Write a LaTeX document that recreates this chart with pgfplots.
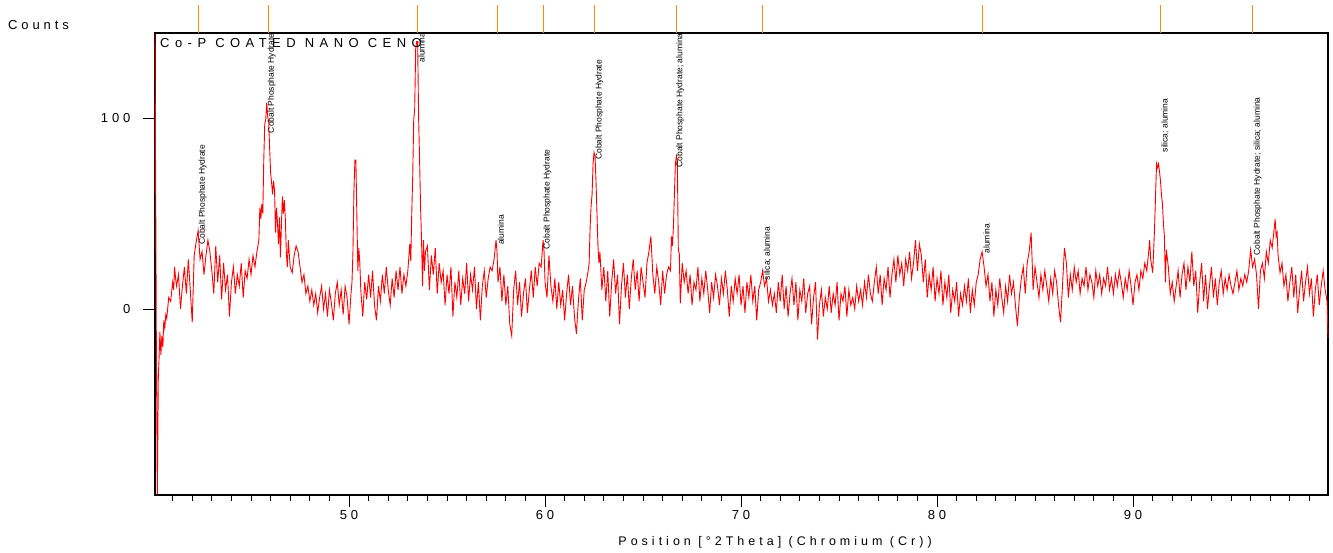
\documentclass[border=0pt]{standalone}
\usepackage{fontspec}
\setmainfont{Liberation Sans}
\newfontfamily\spaced[LetterSpace=30]{Liberation Sans}
\newfontfamily\spacedt[LetterSpace=42]{Liberation Sans}
\newfontfamily\spacedx[LetterSpace=32]{Liberation Sans}
\usepackage{pgfplots}
\pgfplotsset{compat=1.18}
\definecolor{xrdred}{RGB}{255,0,0}
\definecolor{refor}{RGB}{255,140,0}
\newcommand{\pk}[3]{\node[rotate=90,anchor=west,inner sep=0pt,font=\fontsize{8.5}{9}\selectfont,text=black] at (axis cs:#1,#2) {#3};}

\begin{document}
\begin{tikzpicture}
\useasboundingbox (-155pt,-57pt) rectangle (1178pt,495pt);
\begin{axis}[
  scale only axis,
  width=1173pt, height=462pt,
  xmin=40.1, xmax=99.95,
  ymin=-97.4, ymax=144.5,
  clip=false,
  axis line style={black, line width=1.6pt},
  xtick={50,60,70,80,90},
  minor xtick={41,42,43,44,45,46,47,48,49,51,52,53,54,55,56,57,58,59,61,62,63,64,65,66,67,68,69,71,72,73,74,75,76,77,78,79,81,82,83,84,85,86,87,88,89,91,92,93,94,95,96,97,98,99},
  ytick={0,100},
  xtick pos=bottom, ytick pos=left,
  tick align=outside,
  major tick length=12pt, minor tick length=6pt,
  tick style={black, line width=0.7pt},
  /pgf/number format/assume math mode=true,
  ticklabel style={font=\spaced\fontsize{13}{15}\selectfont},
  yticklabel style={xshift=-9pt},
]
\addplot[xrdred, line width=0.9pt] coordinates {
(40.10,144)(40.17,-20)(40.22,-97)(40.27,-35)(40.30,-28)(40.35,-12)(40.40,-24)(40.45,-14)(40.50,-20)(40.55,-6)
(40.60,-10)(40.65,-3)(40.70,-5)(40.80,6)(40.90,4)(41.00,14)(41.05,10)(41.10,22)(41.15,16)(41.20,12)
(41.30,18)(41.40,0)(41.50,12)(41.60,22)(41.70,8)(41.80,26)(41.90,10)(42.00,-7)(42.10,28)(42.20,35)
(42.30,41)(42.40,26)(42.50,30)(42.60,18)(42.70,28)(42.80,36)(42.90,30)(43.00,20)(43.10,8)(43.20,33)
(43.30,14)(43.40,28)(43.50,5)(43.60,24)(43.70,10)(43.80,18)(43.90,-4)(44.00,14)(44.10,22)(44.20,8)
(44.30,18)(44.40,12)(44.50,24)(44.60,6)(44.70,20)(44.80,16)(44.90,26)(45.00,18)(45.10,28)(45.20,22)
(45.30,30)(45.40,36)(45.45,53)(45.50,47)(45.55,55)(45.60,50)(45.65,78)(45.70,97)(45.75,99)(45.80,108)
(45.85,101)(45.90,98)(45.95,84)(46.00,71)(46.05,66)(46.10,60)(46.15,67)(46.20,62)(46.25,40)(46.30,53)
(46.35,45)(46.40,34)(46.45,48)(46.50,27)(46.55,44)(46.60,59)(46.65,50)(46.70,57)(46.75,47)(46.80,30)
(46.85,22)(46.90,36)(47.00,22)(47.10,19)(47.20,28)(47.30,33)(47.40,30)(47.50,22)(47.60,14)(47.70,18)
(47.80,8)(47.90,12)(48.00,4)(48.10,10)(48.20,2)(48.30,8)(48.40,-2)(48.50,6)(48.60,12)(48.70,0)
(48.80,8)(48.90,-4)(49.00,10)(49.10,3)(49.20,-6)(49.30,8)(49.40,14)(49.50,2)(49.60,10)(49.70,-3)
(49.80,12)(49.90,6)(50.00,-8)(50.10,8)(50.15,14)(50.20,30)(50.25,62)(50.30,78)(50.35,78)(50.40,48)
(50.45,20)(50.50,32)(50.55,24)(50.60,10)(50.70,-4)(50.80,14)(50.90,5)(51.00,18)(51.10,6)(51.20,20)
(51.30,2)(51.40,-6)(51.50,12)(51.60,4)(51.70,18)(51.80,8)(51.90,22)(52.00,10)(52.10,2)(52.20,16)
(52.30,6)(52.40,20)(52.50,10)(52.60,22)(52.70,8)(52.80,18)(52.90,12)(53.00,20)(53.10,34)(53.15,25)
(53.20,50)(53.25,70)(53.30,99)(53.35,105)(53.40,136)(53.45,140)(53.50,140)(53.55,100)(53.60,78)(53.65,53)
(53.70,36)(53.75,12)(53.80,36)(53.85,20)(53.90,30)(54.00,33)(54.10,10)(54.20,28)(54.30,18)(54.40,32)
(54.50,8)(54.60,24)(54.70,14)(54.80,20)(54.90,2)(55.00,18)(55.10,8)(55.20,22)(55.30,-4)(55.40,14)
(55.50,6)(55.60,20)(55.70,2)(55.80,16)(55.90,8)(56.00,24)(56.10,4)(56.20,18)(56.30,10)(56.40,22)
(56.50,0)(56.60,14)(56.70,-6)(56.80,12)(56.90,20)(57.00,6)(57.10,16)(57.20,22)(57.30,20)(57.40,26)
(57.50,36)(57.55,30)(57.60,14)(57.70,22)(57.80,4)(57.90,18)(58.00,2)(58.10,12)(58.20,-8)(58.30,-14)
(58.40,10)(58.50,20)(58.60,2)(58.70,14)(58.80,-4)(58.90,8)(59.00,16)(59.10,-2)(59.20,10)(59.30,20)
(59.40,6)(59.50,22)(59.60,12)(59.70,24)(59.80,22)(59.90,36)(59.95,30)(60.00,14)(60.10,6)(60.20,28)
(60.30,12)(60.40,4)(60.50,16)(60.60,0)(60.70,14)(60.80,2)(60.90,10)(61.00,-6)(61.10,8)(61.20,18)
(61.30,2)(61.40,12)(61.50,-4)(61.60,-13)(61.70,4)(61.80,16)(61.90,-6)(62.00,10)(62.10,14)(62.20,20)
(62.25,24)(62.30,43)(62.35,54)(62.40,60)(62.45,76)(62.50,82)(62.55,80)(62.60,67)(62.65,50)(62.70,33)
(62.75,24)(62.80,30)(62.90,10)(63.00,22)(63.10,4)(63.20,20)(63.30,-4)(63.40,14)(63.50,26)(63.60,8)
(63.70,18)(63.80,-8)(63.90,12)(64.00,24)(64.10,6)(64.20,18)(64.30,0)(64.40,16)(64.50,26)(64.60,10)
(64.70,20)(64.80,4)(64.90,22)(65.00,14)(65.10,6)(65.20,24)(65.30,30)(65.40,38)(65.50,18)(65.60,8)
(65.70,22)(65.80,14)(65.90,2)(66.00,20)(66.10,8)(66.20,18)(66.30,22)(66.40,20)(66.45,38)(66.50,33)
(66.55,43)(66.60,60)(66.65,76)(66.70,80)(66.75,78)(66.80,31)(66.85,29)(66.90,3)(67.00,24)(67.10,14)
(67.20,20)(67.30,8)(67.40,18)(67.50,2)(67.60,14)(67.70,10)(67.80,22)(67.90,4)(68.00,16)(68.10,8)
(68.20,20)(68.30,10)(68.40,-2)(68.50,14)(68.60,6)(68.70,18)(68.80,12)(68.90,2)(69.00,16)(69.10,8)
(69.20,20)(69.30,10)(69.40,-4)(69.50,12)(69.60,4)(69.70,16)(69.80,8)(69.90,18)(70.00,2)(70.10,12)
(70.20,-2)(70.30,14)(70.40,6)(70.50,18)(70.60,4)(70.70,12)(70.80,-6)(70.90,10)(71.00,14)(71.10,20)
(71.20,12)(71.30,16)(71.40,4)(71.50,10)(71.60,2)(71.70,8)(71.80,-2)(71.90,14)(72.00,4)(72.10,18)
(72.20,0)(72.30,12)(72.40,-4)(72.50,8)(72.60,16)(72.70,2)(72.80,14)(72.90,-6)(73.00,10)(73.10,4)
(73.20,16)(73.30,-2)(73.40,8)(73.50,12)(73.60,-8)(73.70,6)(73.80,14)(73.90,-16)(74.00,2)(74.10,10)
(74.20,-4)(74.30,6)(74.40,0)(74.50,12)(74.60,-2)(74.70,8)(74.80,2)(74.90,14)(75.00,-6)(75.10,8)
(75.20,4)(75.30,12)(75.40,-4)(75.50,10)(75.60,2)(75.70,6)(75.80,0)(75.90,12)(76.00,4)(76.10,10)
(76.20,2)(76.30,14)(76.40,6)(76.50,18)(76.60,8)(76.70,4)(76.80,14)(76.90,22)(77.00,8)(77.10,18)
(77.20,2)(77.30,16)(77.40,10)(77.50,22)(77.60,6)(77.70,18)(77.80,26)(77.90,14)(78.00,28)(78.10,18)
(78.20,24)(78.30,12)(78.40,26)(78.50,20)(78.60,30)(78.70,16)(78.80,24)(78.90,36)(79.00,20)(79.10,34)
(79.20,28)(79.30,14)(79.40,26)(79.50,6)(79.60,18)(79.70,10)(79.80,22)(79.90,4)(80.00,16)(80.10,8)
(80.20,20)(80.30,2)(80.40,14)(80.50,6)(80.60,18)(80.70,-2)(80.80,10)(80.90,4)(81.00,14)(81.10,-4)
(81.20,8)(81.30,2)(81.40,12)(81.50,4)(81.60,16)(81.70,-2)(81.80,10)(81.90,2)(82.00,14)(82.10,18)
(82.20,26)(82.30,30)(82.40,22)(82.50,12)(82.60,18)(82.70,4)(82.80,14)(82.90,-4)(83.00,10)(83.10,2)
(83.20,16)(83.30,6)(83.40,-2)(83.50,12)(83.60,4)(83.70,18)(83.80,8)(83.90,14)(84.00,2)(84.10,-9)
(84.20,6)(84.30,16)(84.40,22)(84.50,8)(84.60,24)(84.70,30)(84.80,40)(84.85,26)(84.90,10)(85.00,22)
(85.10,14)(85.20,6)(85.30,18)(85.40,10)(85.50,20)(85.60,12)(85.70,4)(85.80,16)(85.90,8)(86.00,20)
(86.10,14)(86.20,2)(86.30,-7)(86.40,12)(86.50,32)(86.60,24)(86.70,6)(86.80,18)(86.90,10)(87.00,22)
(87.10,14)(87.20,20)(87.30,8)(87.40,16)(87.50,12)(87.60,22)(87.70,10)(87.80,18)(87.90,14)(88.00,6)
(88.10,20)(88.20,12)(88.30,18)(88.40,8)(88.50,16)(88.60,12)(88.70,22)(88.80,10)(88.90,16)(89.00,8)
(89.10,18)(89.20,12)(89.30,20)(89.40,14)(89.50,6)(89.60,16)(89.70,10)(89.80,20)(89.90,12)(90.00,2)
(90.10,14)(90.20,18)(90.30,10)(90.40,20)(90.50,16)(90.60,24)(90.70,20)(90.80,30)(90.85,36)(90.90,26)
(91.00,19)(91.05,30)(91.10,43)(91.15,60)(91.20,76)(91.25,74)(91.30,76)(91.35,72)(91.40,67)(91.45,60)
(91.50,55)(91.55,45)(91.60,38)(91.65,14)(91.70,31)(91.80,22)(91.90,8)(92.00,14)(92.10,4)(92.20,12)
(92.30,20)(92.40,6)(92.50,18)(92.60,24)(92.70,10)(92.80,22)(92.90,14)(93.00,30)(93.10,12)(93.20,20)
(93.30,-2)(93.40,14)(93.50,24)(93.60,4)(93.70,18)(93.80,0)(93.90,12)(94.00,22)(94.10,6)(94.20,16)
(94.30,2)(94.40,14)(94.50,20)(94.60,8)(94.70,16)(94.80,10)(94.90,18)(95.00,12)(95.10,8)(95.20,14)
(95.30,20)(95.40,10)(95.50,16)(95.60,12)(95.70,18)(95.80,14)(95.90,20)(96.00,31)(96.10,22)(96.20,26)
(96.30,18)(96.40,0)(96.50,20)(96.60,24)(96.70,16)(96.80,30)(96.90,24)(97.00,36)(97.10,32)(97.20,42)
(97.25,47)(97.30,38)(97.35,40)(97.40,28)(97.50,19)(97.60,24)(97.70,12)(97.80,18)(97.90,4)(98.00,14)
(98.10,22)(98.20,6)(98.30,18)(98.40,-2)(98.50,10)(98.60,20)(98.70,4)(98.80,14)(98.90,22)(99.00,8)
(99.10,16)(99.20,-4)(99.30,10)(99.40,18)(99.50,2)(99.60,12)(99.70,20)(99.80,10)(99.90,4)(99.95,-15)
};
% reference pattern lines above the frame
\pgfplotsinvokeforeach{42.30,45.87,53.47,57.55,59.90,62.50,66.73,71.12,82.30,91.38,96.12}{
  \addplot[refor, line width=1pt, forget plot] coordinates {(#1,144.5) (#1,159.2)};
}
% peak labels
\pk{42.53}{33.5}{Cobalt Phosphate Hydrate}
\pk{46.05}{92}{Cobalt Phosphate Hydrate}
\pk{53.70}{129}{alumina}
\pk{57.75}{33.5}{alumina}
\pk{60.12}{31}{Cobalt Phosphate Hydrate}
\pk{62.77}{78}{Cobalt Phosphate Hydrate}
\pk{66.89}{74}{Cobalt Phosphate Hydrate; alumina}
\pk{71.34}{15}{silica; alumina}
\pk{82.53}{29}{alumina}
\pk{91.63}{82}{silica; alumina}
\pk{96.36}{28}{Cobalt Phosphate Hydrate; silica; alumina}
% texts
\node[anchor=west, inner sep=0pt, font=\spaced\fontsize{13}{15}\selectfont] at (rel axis cs:0,1) [xshift=-147pt, yshift=8pt] {Counts};
\node[anchor=west, inner sep=0pt, font=\spacedt\fontsize{13}{15}\selectfont] at (rel axis cs:0,1) [xshift=5pt, yshift=-10pt] {Co-P COATED NANO CENO};
\node[anchor=center, inner sep=0pt, font=\spacedx\fontsize{12.5}{14}\selectfont] at (rel axis cs:0.5286,0) [yshift=-47pt] {Position [°2Theta] (Chromium (Cr))};
\end{axis}
\end{tikzpicture}
\end{document}
